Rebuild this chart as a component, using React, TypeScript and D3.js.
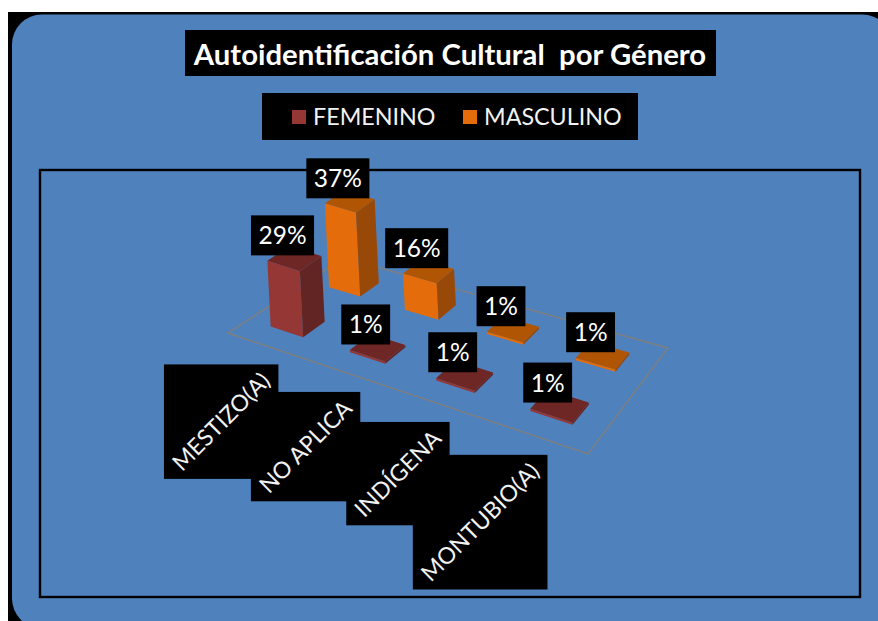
import React, { useEffect, useRef } from "react";
import * as d3 from "d3";

const categories = ["MESTIZO(A)", "NO APLICA", "INDÍGENA", "MONTUBIO(A)"];
const seriesNames = ["FEMENINO", "MASCULINO"];
const femenino = [29, 1, 1, 1];
const masculino = [37, 16, 1, 1];
const seriesValues = [femenino, masculino];
const titleText = "Autoidentificación Cultural  por Género";

const width = 878;
const height = 621;
const blue = "#4f81bd";
const font = "Lato, 'Open Sans', sans-serif";

// front, side, top shades for each series
const shades = [
  { front: "#953735", side: "#632523", top: "#6f2726" },
  { front: "#e46c0a", side: "#984807", top: "#b05504" },
];

// corners of the chart floor on screen: front-left, front-right, back-right, back-left
const floor: [number, number][] = [
  [228, 333],
  [588, 454],
  [668, 348],
  [344, 258],
];

// unit square -> floor quad (perspective)
function makeProjection(q: [number, number][]) {
  const [[x0, y0], [x1, y1], [x2, y2], [x3, y3]] = q;
  const dx1 = x1 - x2;
  const dx2 = x3 - x2;
  const sx = x0 - x1 + x2 - x3;
  const dy1 = y1 - y2;
  const dy2 = y3 - y2;
  const sy = y0 - y1 + y2 - y3;
  const den = dx1 * dy2 - dx2 * dy1;
  const g = (sx * dy2 - dx2 * sy) / den;
  const h = (dx1 * sy - sx * dy1) / den;
  const a = x1 - x0 + g * x1;
  const b = x3 - x0 + h * x3;
  const d = y1 - y0 + g * y1;
  const e = y3 - y0 + h * y3;
  return (u: number, v: number): [number, number] => {
    const w = g * u + h * v + 1;
    return [(a * u + b * v + x0) / w, (d * u + e * v + y0) / w];
  };
}

export default function App() {
  const svgRef = useRef<SVGSVGElement>(null);

  useEffect(() => {
    const svg = d3.select(svgRef.current);
    svg.selectAll("*").remove();

    // frame
    svg.append("rect").attr("x", 8).attr("y", 12).attr("width", width).attr("height", height).attr("fill", "#000");
    svg
      .append("rect")
      .attr("x", 12)
      .attr("y", 14.5)
      .attr("width", 880)
      .attr("height", 614)
      .attr("rx", 30)
      .attr("fill", blue);
    svg
      .append("rect")
      .attr("x", 40)
      .attr("y", 170)
      .attr("width", 820)
      .attr("height", 427)
      .attr("fill", "none")
      .attr("stroke", "#000")
      .attr("stroke-width", 2.4);

    // title
    svg.append("rect").attr("x", 185).attr("y", 30).attr("width", 531).attr("height", 46).attr("fill", "#000");
    svg
      .append("text")
      .attr("x", 450)
      .attr("y", 65)
      .attr("text-anchor", "middle")
      .attr("fill", "#fff")
      .attr("font-family", font)
      .attr("font-weight", 700)
      .attr("font-size", 29.3)
      .style("white-space", "pre")
      .text(titleText);

    // legend
    svg.append("rect").attr("x", 262).attr("y", 93).attr("width", 376).attr("height", 47).attr("fill", "#000");
    const legendX = d3.scaleOrdinal<string, number>().domain(seriesNames).range([292, 463]);
    const legend = svg
      .append("g")
      .selectAll("g")
      .data(seriesNames)
      .join("g")
      .attr("transform", (d) => `translate(${legendX(d)},110)`);
    legend
      .append("rect")
      .attr("width", 14)
      .attr("height", 14)
      .attr("fill", (_, i) => shades[i].front);
    legend
      .append("text")
      .attr("x", 21)
      .attr("y", 15)
      .attr("fill", "#f2f2f2")
      .attr("font-family", font)
      .attr("font-size", 23.3)
      .text((d) => d);

    // floor
    const project = makeProjection(floor);
    const line = d3.line();
    svg
      .append("path")
      .attr("d", line(floor) + "Z")
      .attr("fill", "none")
      .attr("stroke", "#7f7f7f")
      .attr("stroke-width", 1.4);

    const xBand = d3.scaleBand().domain(categories).range([0, 1]).paddingInner(0.58).paddingOuter(0.29);
    const zBand = d3.scaleBand().domain(seriesNames).range([0, 1]).paddingInner(0.64).paddingOuter(0.32);
    const y = d3.scaleLinear().domain([0, 37]).range([0, 84]);
    const lean = -0.05; // verticals tilt a little to the left

    const up = (p: [number, number], h: number): [number, number] => [p[0] + lean * h, p[1] - h];
    const poly = (pts: [number, number][]) => line(pts) + "Z";

    type Bar = { cat: string; ser: number; value: number };
    const bars: Bar[] = [];
    // back series first, then back-to-front per category
    [1, 0].forEach((ser) => {
      categories.forEach((cat, i) => bars.push({ cat, ser, value: seriesValues[ser][i] }));
    });

    const barLayer = svg.append("g");
    const labelData: { value: number; x: number; y: number }[] = [];

    bars.forEach((b) => {
      const u0 = xBand(b.cat)!;
      const u1 = u0 + xBand.bandwidth();
      const v0 = zBand(seriesNames[b.ser])!;
      const v1 = v0 + zBand.bandwidth();
      const fl = project(u0, v0);
      const fr = project(u1, v0);
      const br = project(u1, v1);
      const bl = project(u0, v1);
      const h = y(b.value);
      const g = barLayer.append("g");
      const c = shades[b.ser];
      g.append("path").attr("d", poly([fl, fr, up(fr, h), up(fl, h)])).attr("fill", c.front);
      g.append("path").attr("d", poly([fr, br, up(br, h), up(fr, h)])).attr("fill", c.side);
      g.append("path").attr("d", poly([up(fl, h), up(fr, h), up(br, h), up(bl, h)])).attr("fill", c.top);
      const top = up(project((u0 + u1) / 2, (v0 + v1) / 2), h);
      labelData.push({ value: b.value, x: top[0] - 12, y: top[1] - 23 });
    });

    // value labels
    labelData.forEach((d) => {
      const g = svg.append("g").attr("transform", `translate(${d.x},${d.y})`);
      const rect = g.append("rect").attr("fill", "#000");
      const text = g
        .append("text")
        .attr("text-anchor", "middle")
        .attr("y", 9)
        .attr("fill", "#fff")
        .attr("font-family", font)
        .attr("font-size", 24.5)
        .text(`${d.value}%`);
      const w = (text.node() as SVGTextElement).getComputedTextLength() + 15;
      rect.attr("x", -w / 2).attr("y", -20).attr("width", w).attr("height", 40);
    });

    // category labels, rotated, each in a black box that ends at the floor edge
    const labelLayer = svg.append("g");
    const boxes = labelLayer.append("g");
    categories.forEach((cat) => {
      const anchor = project(xBand(cat)! + xBand.bandwidth() / 2, 0);
      const text = labelLayer
        .append("text")
        .attr("text-anchor", "middle")
        .attr("dy", 8)
        .attr("fill", "#f2f2f2")
        .attr("font-family", font)
        .attr("font-size", 23)
        .text(cat);
      const len = (text.node() as SVGTextElement).getComputedTextLength();
      const side = (len + 35) * Math.SQRT1_2;
      const right = anchor[0] + 12;
      const topY = anchor[1] + 18.5;
      boxes
        .append("rect")
        .attr("x", right - side)
        .attr("y", topY)
        .attr("width", side)
        .attr("height", side)
        .attr("fill", "#000");
      text.attr("transform", `translate(${right - side / 2},${topY + side / 2}) rotate(-45)`);
    });
  }, []);

  return (
    <svg
      ref={svgRef}
      width={width}
      height={height}
      viewBox={`0 0 ${width} ${height}`}
      style={{ position: "fixed", left: 0, top: 0, background: "#fff" }}
    />
  );
}
